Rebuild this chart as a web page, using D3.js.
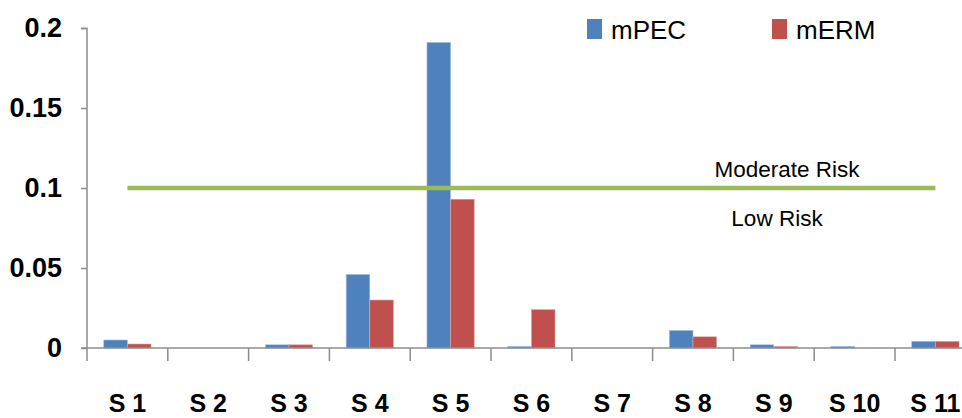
<!DOCTYPE html>
<html><head><meta charset="utf-8">
<script src="https://cdn.jsdelivr.net/npm/d3@7"></script>
<style>html,body{margin:0;padding:0;background:#fff;}svg{display:block;}</style>
</head><body>
<svg id="c" width="962" height="418"></svg>
<script>
const categories = ["S 1","S 2","S 3","S 4","S 5","S 6","S 7","S 8","S 9","S 10","S 11"];
const mPEC = [0.005, 0, 0.002, 0.046, 0.191, 0.001, 0, 0.011, 0.002, 0.001, 0.0042];
const mERM = [0.0025, 0, 0.002, 0.030, 0.093, 0.024, 0, 0.007, 0.001, 0, 0.0042];
const riskLine = [0.1,0.1,0.1,0.1,0.1,0.1,0.1,0.1,0.1,0.1,0.1];
const seriesNames = ["mPEC","mERM"];
const colors = ["#4f81bd","#c0504d"];
const yTicks = [0, 0.05, 0.1, 0.15, 0.2];
const yTickLabels = ["0","0.05","0.1","0.15","0.2"];
const zoneLabels = ["Moderate Risk","Low Risk"];

const svg = d3.select("#c");
const font = "'Liberation Sans', Arial, sans-serif";
const x0 = d3.scaleBand().domain(categories).range([87, 87 + 11*80.8]).paddingInner(0.415).paddingOuter(0.2075);
const x1 = d3.scaleBand().domain(seriesNames).range([0, x0.bandwidth()]);
const y = d3.scaleLinear().domain([0, 0.2]).range([348, 28]);

// bars
const data = [mPEC, mERM];
data.forEach((vals, si) => {
  svg.append("g").selectAll("rect").data(vals).join("rect")
    .attr("x", (d,i) => x0(categories[i]) + x1(seriesNames[si]))
    .attr("width", x1.bandwidth())
    .attr("y", d => y(d))
    .attr("height", d => y(0) - y(d))
    .attr("fill", colors[si])
    .attr("stroke", si === 0 ? "#a7c0de" : "#e0a8a6")
    .attr("stroke-width", 0.6);
});

// y axis
const yAxis = d3.axisLeft(y).tickValues(yTicks).tickFormat((d,i) => yTickLabels[i]).tickSize(6).tickPadding(19);
const gy = svg.append("g").attr("transform", "translate(87,0)").call(yAxis);
gy.select(".domain").attr("stroke", "#8c8c8c").attr("stroke-width", 1.5).attr("d", "M-6,28.5H0V348");
gy.selectAll(".tick line").attr("stroke", "#8c8c8c").attr("stroke-width", 1.5);
gy.selectAll(".tick text").attr("font-family", font).attr("font-weight", "bold").attr("font-size", 27).attr("fill", "#000");

// x axis line and boundary ticks
const xAxisG = svg.append("g");
xAxisG.append("line").attr("x1", 81).attr("x2", 962).attr("y1", 348).attr("y2", 348).attr("stroke", "#8c8c8c").attr("stroke-width", 1.5);
const bounds = categories.map(c => x0(c) - x0.step()*x0.paddingOuter());
xAxisG.selectAll("line.b").data(bounds).join("line").attr("class","b")
  .attr("x1", d => d).attr("x2", d => d).attr("y1", 348).attr("y2", 361)
  .attr("stroke", "#8c8c8c").attr("stroke-width", 1.5);
xAxisG.selectAll("text").data(categories).join("text")
  .attr("x", d => x0(d) + x0.bandwidth()/2)
  .attr("y", 412)
  .attr("text-anchor", "middle")
  .attr("font-family", font).attr("font-weight", "bold").attr("font-size", 25)
  .text(d => d);

// risk line
const line = d3.line().x((d,i) => x0(categories[i]) + x0.bandwidth()/2).y(d => y(d));
svg.append("path").datum(riskLine).attr("d", line).attr("fill", "none").attr("stroke", "#9bbb59").attr("stroke-width", 4.5);

svg.append("text").attr("x", 787).attr("y", 177).attr("text-anchor", "middle")
  .attr("font-family", font).attr("font-size", 22.5).text(zoneLabels[0]);
svg.append("text").attr("x", 777).attr("y", 226).attr("text-anchor", "middle")
  .attr("font-family", font).attr("font-size", 22.5).text(zoneLabels[1]);

// legend
const legX = [587, 772];
seriesNames.forEach((n, i) => {
  svg.append("rect").attr("x", legX[i]).attr("y", 19).attr("width", 15).attr("height", 20).attr("fill", colors[i]);
  svg.append("text").attr("x", legX[i] + 24).attr("y", 39).attr("font-family", font).attr("font-size", 26).text(n);
});
</script>
</body></html>
